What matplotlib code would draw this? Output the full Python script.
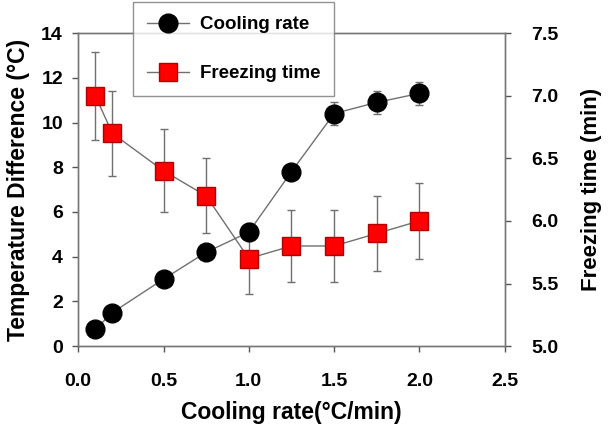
import matplotlib
matplotlib.use("Agg")
import matplotlib.pyplot as plt
from matplotlib.lines import Line2D

plt.rcParams['font.family'] = ['Liberation Sans', 'DejaVu Sans']
plt.rcParams['font.weight'] = 'bold'

x = [0.1, 0.2, 0.5, 0.75, 1.0, 1.25, 1.5, 1.75, 2.0]
cooling = [0.75, 1.5, 3.0, 4.2, 5.1, 7.8, 10.4, 10.9, 11.3]
cooling_err = [0.1, 0.1, 0.1, 0.1, 0.1, 0.15, 0.5, 0.5, 0.5]
freezing = [7.0, 6.7, 6.4, 6.2, 5.7, 5.8, 5.8, 5.9, 6.0]
freezing_err = [0.35, 0.34, 0.33, 0.3, 0.28, 0.29, 0.29, 0.3, 0.3]

xticks = [0.0, 0.5, 1.0, 1.5, 2.0, 2.5]
yticks_left = [0, 2, 4, 6, 8, 10, 12, 14]
yticks_right = [5.0, 5.5, 6.0, 6.5, 7.0, 7.5]

fig = plt.figure(figsize=(6.11, 4.29), dpi=100)
ax = fig.add_axes([0.128, 0.193, 0.698, 0.730])
ax2 = ax.twinx()

line_c = '#707070'
sq_style = dict(color=line_c, lw=1.0, marker='s', ms=13, mfc='#ff0000',
                mec='#b00000', mew=1.0)
ci_style = dict(color=line_c, lw=1.0, marker='o', ms=13.5, mfc='black',
                mec='black')

ax2.errorbar(x, freezing, yerr=freezing_err, ecolor=line_c, elinewidth=1.0,
             capsize=3, capthick=1.0, zorder=2, **sq_style)
ax.set_zorder(ax2.get_zorder() + 1)
ax.patch.set_visible(False)
ax.errorbar(x, cooling, yerr=cooling_err, ecolor=line_c, elinewidth=1.0,
            capsize=3, capthick=1.0, zorder=3, **ci_style)

ax.set_xlim(0, 2.5)
ax.set_ylim(0, 14)
ax2.set_ylim(5.0, 7.5)
ax.set_xticks(xticks)
ax.set_xticklabels([f'{t:.1f}' for t in xticks])
ax.set_yticks(yticks_left)
ax2.set_yticks(yticks_right)
ax2.set_yticklabels([f'{t:.1f}' for t in yticks_right])

for a in (ax, ax2):
    a.tick_params(direction='out', length=4, width=1, colors='#555555',
                  labelcolor='black', labelsize=14)
    for s in a.spines.values():
        s.set_color('#777777')
        s.set_linewidth(1.0)
ax.tick_params(axis='x', pad=15)
ax.tick_params(axis='y', pad=7)
ax2.tick_params(axis='y', pad=15)

ax.set_xlabel('Cooling rate(°C/min)', fontsize=16.5, fontweight='bold', labelpad=8)
ax.set_ylabel('Temperature Difference (°C)', fontsize=16.5, fontweight='bold', labelpad=8)
ax2.set_ylabel('Freezing time (min)', fontsize=16, fontweight='bold', labelpad=16)

h1 = Line2D([], [], **ci_style)
h2 = Line2D([], [], **sq_style)
leg = fig.legend([h1, h2], ['Cooling rate', 'Freezing time'],
                 loc='upper left', bbox_to_anchor=(0.218, 0.995),
                 frameon=True, fancybox=False, fontsize=13.5,
                 handlelength=2.2, borderpad=0.75, labelspacing=1.7,
                 handletextpad=0.6, borderaxespad=0)
leg.get_frame().set_edgecolor('#777777')
leg.get_frame().set_linewidth(1.0)
leg.set_zorder(10)

fig.savefig('out.png', dpi=100)
